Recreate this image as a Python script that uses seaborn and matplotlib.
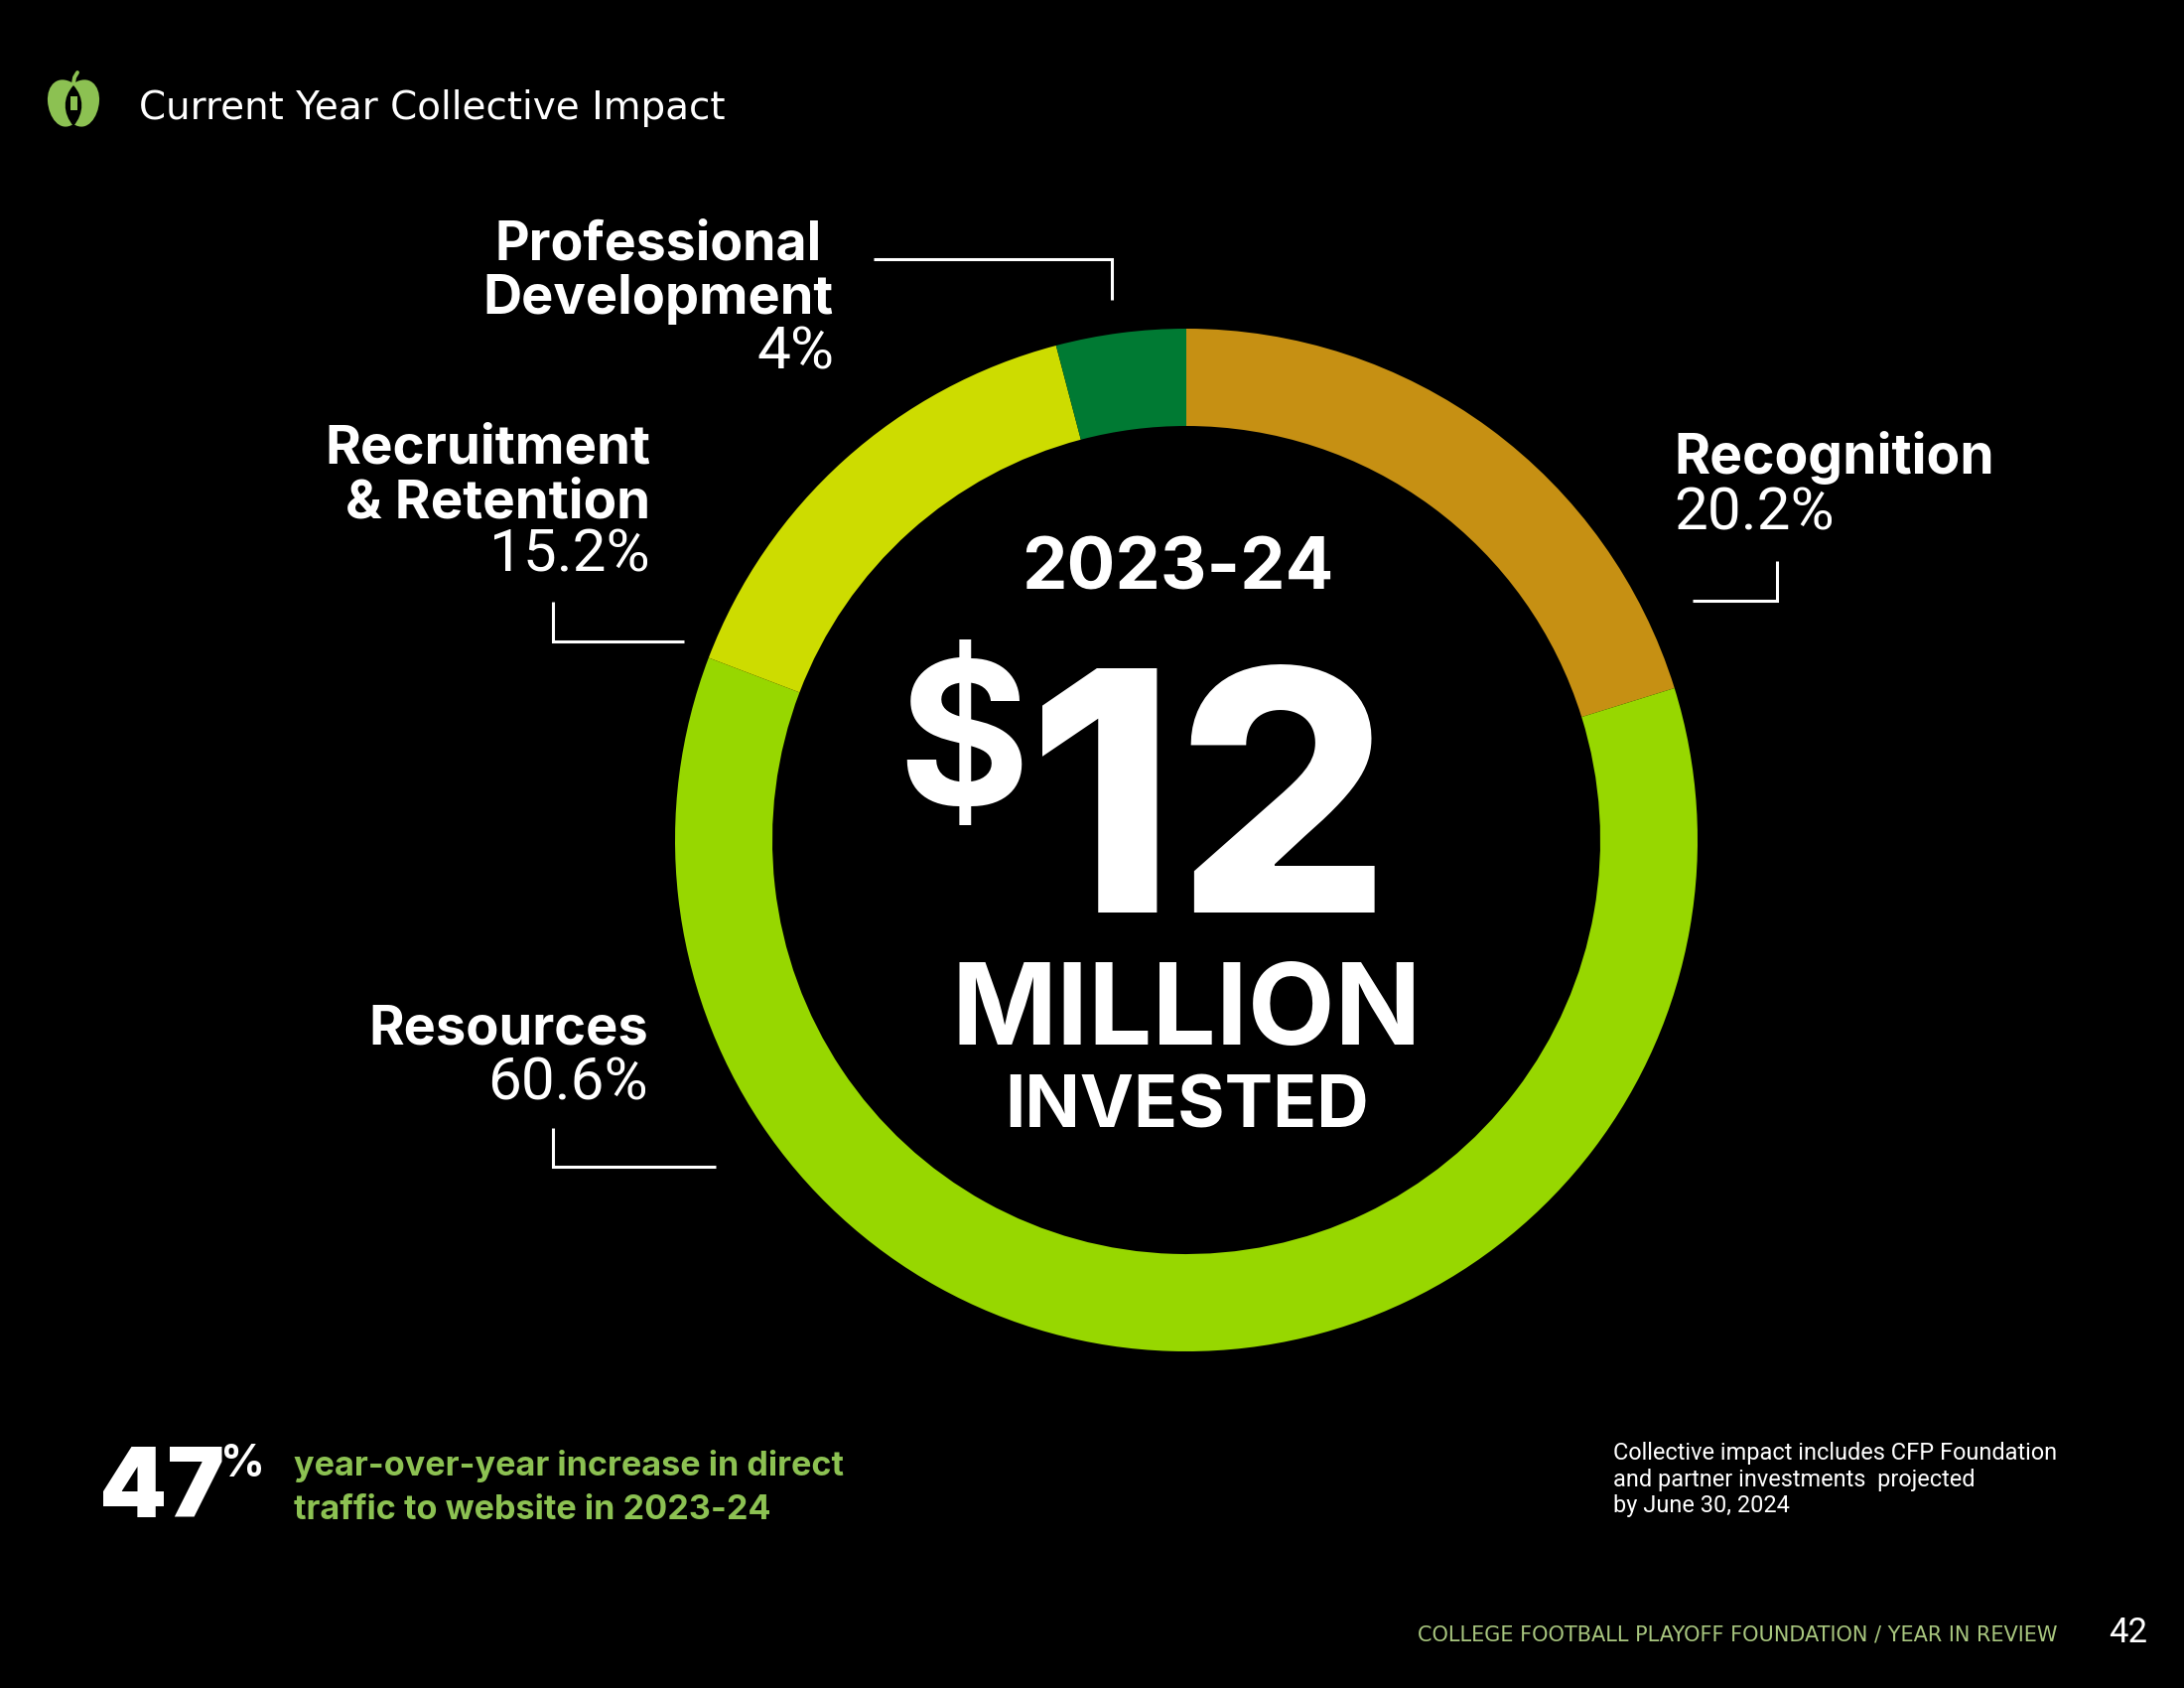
import matplotlib
matplotlib.use("Agg")
import matplotlib.pyplot as plt
import seaborn as sns
from matplotlib.patches import PathPatch
from matplotlib.path import Path

# data
categories = ["Recognition", "Resources", "Recruitment & Retention", "Professional Development"]
shares = [20.2, 60.6, 15.1, 4.1]
share_labels = ["20.2%", "60.6%", "15.2%", "4%"]
colors = ["#C69013", "#97D700", "#CDDC00", "#007A33"]

BG = "#000000"
GREEN = "#8CC152"
W, H = 2200, 1700

sns.set_theme(style="white")
plt.rcParams["font.family"] = ["Inter", "DejaVu Sans"]

fig = plt.figure(figsize=(11, 8.5), dpi=200, facecolor=BG)

# donut, 515 px outer radius around (1195, 846)
cx, cy, r_out, r_in = 1195, 846, 515, 417
box = 530
ax = fig.add_axes([(cx - box) / W, 1 - (cy + box) / H, 2 * box / W, 2 * box / H])
ax.pie(shares, colors=sns.color_palette(colors), startangle=90, counterclock=False,
       radius=1, wedgeprops=dict(width=1 - r_in / r_out, linewidth=0))
ax.set_xlim(-box / r_out, box / r_out)
ax.set_ylim(-box / r_out, box / r_out)
ax.set_aspect("equal")
ax.axis("off")

# overlay in page pixels for text and leaders
pg = fig.add_axes([0, 0, 1, 1], facecolor="none")
pg.set_xlim(0, W)
pg.set_ylim(H, 0)
pg.axis("off")


def txt(x, y, s, size, weight="normal", color="white", ha="left", **kw):
    pg.text(x, y, s, fontsize=size, fontweight=weight, color=color, ha=ha,
            va="baseline", **kw)


# header
txt(140, 120, "Current Year Collective Impact", 14, family="DejaVu Sans")

# apple icon
apple = Path(
    [(74, 84), (58, 74), (47, 86), (48, 102), (49, 118), (60, 134), (74, 125),
     (88, 134), (99, 118), (100, 102), (101, 86), (90, 74), (74, 84)],
    [Path.MOVETO] + [Path.CURVE4] * 12,
)
pg.add_patch(PathPatch(apple, facecolor=GREEN, edgecolor="none"))
seed = Path(
    [(74, 86), (63, 98), (63, 114), (74, 127), (85, 114), (85, 98), (74, 86)],
    [Path.MOVETO] + [Path.CURVE4] * 6,
)
pg.add_patch(PathPatch(seed, facecolor=BG, edgecolor="none"))
pg.add_patch(plt.Rectangle((71, 97), 7, 14, facecolor=GREEN, edgecolor="none"))
pg.plot([74, 75, 78], [84, 78, 73], color=GREEN, lw=1.4, solid_capstyle="round")

# slice labels
LABEL = 19.7
PCT = 21.7
txt(828, 261, "Professional", 19.3, weight="bold", ha="right")
txt(840, 316, "Development", 19.5, weight="bold", ha="right")
txt(840, 371, share_labels[3], PCT, ha="right", family="Roboto")

txt(655, 466, "Recruitment", LABEL, weight="bold", ha="right")
txt(655, 521, "& Retention", LABEL, weight="bold", ha="right")
txt(655, 576, share_labels[2], PCT, ha="right", family="Roboto")

txt(653, 1052, "Resources", 19.5, weight="bold", ha="right")
txt(653, 1107, share_labels[1], PCT, ha="right", family="Roboto")

txt(1686, 477, "Recognition", 19.9, weight="bold")
txt(1686, 533, share_labels[0], PCT, family="Roboto")

# leaders
leaders = [
    ([880, 1120, 1120], [261, 261, 302]),
    ([1705, 1790, 1790], [605, 605, 565]),
    ([557, 557, 689], [606, 646, 646]),
    ([557, 557, 721], [1136, 1175, 1175]),
]
for xs, ys in leaders:
    pg.plot(xs, ys, color="white", lw=1.1, solid_joinstyle="miter", solid_capstyle="butt")

# centre text
txt(1186, 594, "2023-24", 26, weight="bold", ha="center")
txt(904, 811, "$", 73, weight="bold")
txt(1218, 919, "12", 122, weight="heavy", ha="center")
txt(1195, 1052, "MILLION", 41, weight="bold", ha="center")
txt(1196, 1135, "INVESTED", 26.2, weight="bold", ha="center")

# bottom notes
txt(100, 1528, "47", 35, weight="black")
txt(222, 1487, "%", 16, weight="bold")
txt(296, 1486, "year-over-year increase in direct", 12.3, weight="bold", color=GREEN)
txt(296, 1530, "traffic to website in 2023-24", 12.3, weight="bold", color=GREEN)

txt(1625, 1470, "Collective impact includes CFP Foundation", 8.45, family="Roboto")
txt(1625, 1497, "and partner investments  projected", 8.45, family="Roboto")
txt(1625, 1523, "by June 30, 2024", 8.45, family="Roboto")

txt(1428, 1652, "COLLEGE FOOTBALL PLAYOFF FOUNDATION / YEAR IN REVIEW", 7.5,
    color="#A9C77F", family="DejaVu Sans")
txt(2124, 1654, "42", 12.5, family="Roboto")

fig.savefig("out.png", dpi=200, facecolor=BG)
